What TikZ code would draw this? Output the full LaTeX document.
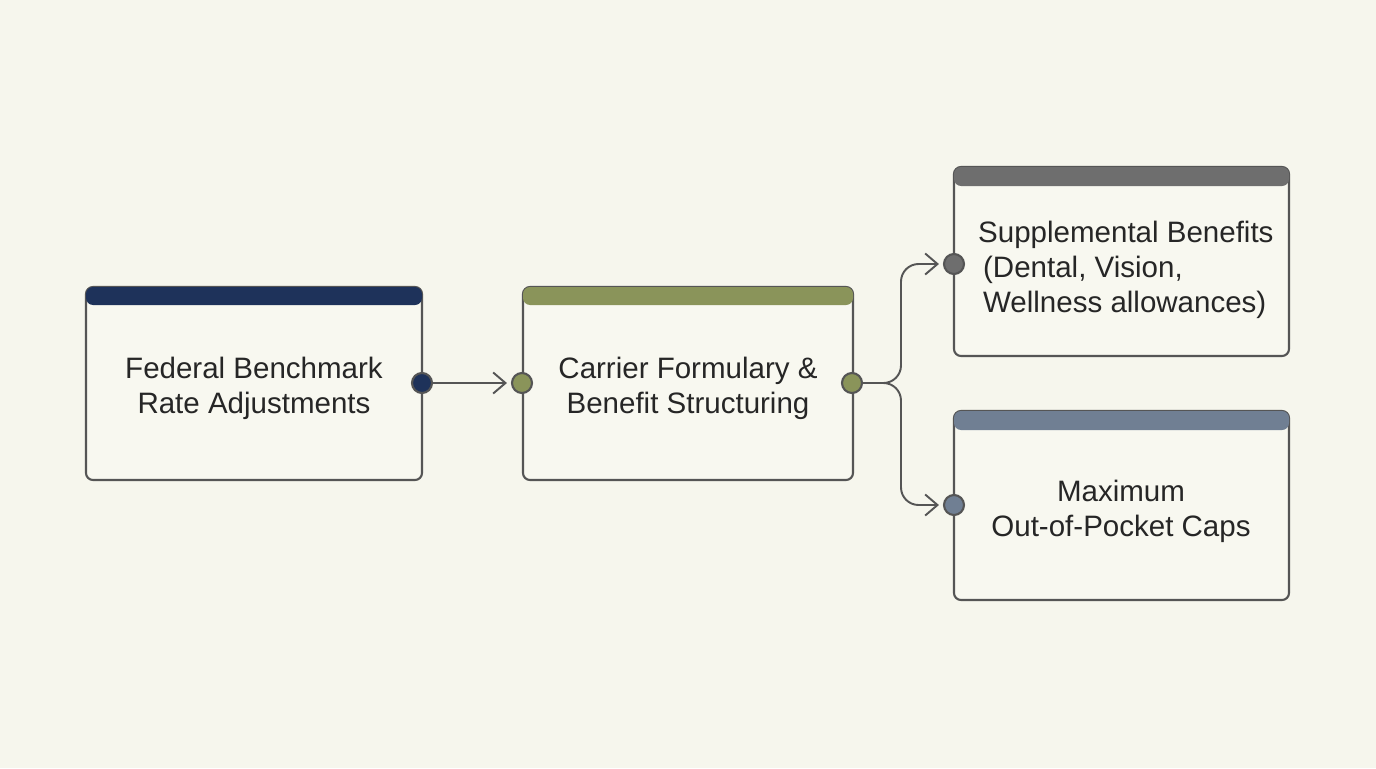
\documentclass[tikz,border=0pt]{standalone}
\usepackage{fontspec}
\setmainfont{Liberation Sans}
\usepackage{xcolor}
\definecolor{bgcream}{RGB}{246, 246, 237}
\definecolor{boxfill}{RGB}{248, 248, 240}
\definecolor{edgegray}{RGB}{85, 85, 85}
\definecolor{navyhead}{RGB}{30, 50, 90}
\definecolor{olivehead}{RGB}{138, 148, 90}
\definecolor{grayhead}{RGB}{110, 110, 110}
\definecolor{slatehead}{RGB}{112, 127, 147}
\usetikzlibrary{arrows.meta, positioning, calc}

\begin{document}
\begin{tikzpicture}[x=0.02cm, y=-0.02cm,
    card/.style={draw=edgegray, line width=1.2pt, fill=boxfill, rounded corners=4pt},
    port/.style={circle, draw=edgegray, line width=1.2pt, minimum size=0.4cm, inner sep=0pt},
    label/.style={font=\fontsize{16.8}{20}\selectfont, text=black!85, align=center},
    link/.style={draw=edgegray, line width=1.1pt, -{Straight Barb[length=7pt, width=12pt]}}
]
    % Background
    \fill[bgcream] (0, 0) rectangle (1376, 768);

    % Cards
    \draw[card] (86, 287) rectangle (422, 480);
    \fill[navyhead, rounded corners=4pt] (86, 287) rectangle (422, 305);
    \draw[card] (523, 287) rectangle (853, 480);
    \fill[olivehead, rounded corners=4pt] (523, 287) rectangle (853, 305);
    \draw[card] (954, 167) rectangle (1289, 356);
    \fill[grayhead, rounded corners=4pt] (954, 167) rectangle (1289, 186);
    \draw[card] (954, 411) rectangle (1289, 600);
    \fill[slatehead, rounded corners=4pt] (954, 411) rectangle (1289, 430);

    % Texts
    \node[label] (rate) at (254, 388) {Federal Benchmark\\Rate Adjustments};
    \node[label] (carrier) at (688, 388) {Carrier Formulary \&\\Benefit Structuring};
    \node[label, align=left, anchor=west] (supp) at (972, 270) {Supplemental Benefits\\\,(Dental, Vision,\\\,Wellness allowances)};
    \node[label] (moop) at (1121, 511) {Maximum\\Out-of-Pocket Caps};

    % Ports
    \node[port, fill=navyhead] (out1) at (422, 383) {};
    \node[port, fill=olivehead] (in2) at (522, 383) {};
    \node[port, fill=olivehead] (out2) at (852, 383) {};
    \node[port, fill=grayhead] (in3) at (954, 264) {};
    \node[port, fill=slatehead] (in4) at (954, 505) {};

    % Connectors
    \draw[link] (out1) -- ($(in2.west)+(-4, 0)$);
    \draw[link, rounded corners=10pt] (out2) -| (901, 264) -- ($(in3.west)+(-4, 0)$);
    \draw[link, rounded corners=10pt] (out2) -| (901, 505) -- ($(in4.west)+(-4, 0)$);
\end{tikzpicture}
\end{document}
